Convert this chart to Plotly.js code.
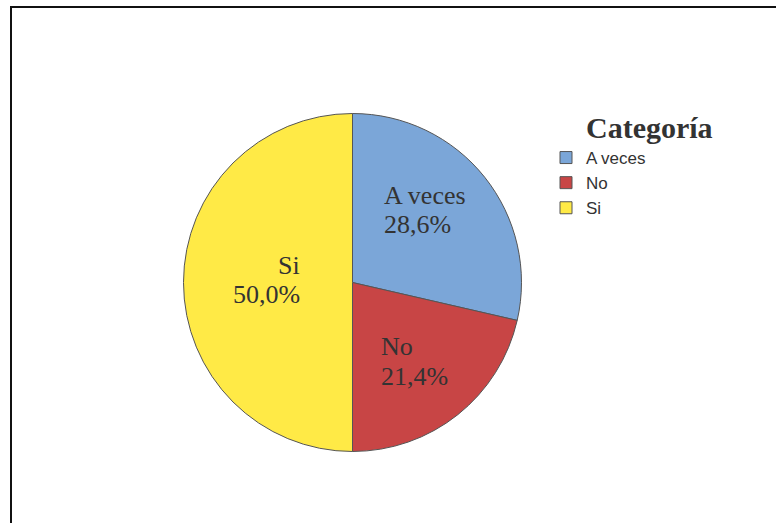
<!DOCTYPE html>
<html>
<head>
<meta charset="utf-8">
<script src="https://cdn.plot.ly/plotly-3.0.1.min.js"></script>
<style>
  html, body { margin: 0; padding: 0; background: #fff; }
  #wrap { position: relative; width: 776px; height: 523px; overflow: hidden; }
  #chart { position: absolute; left: 0; top: 0; width: 776px; height: 523px; }
  #frame { position: absolute; left: 10px; top: 6px; width: 800px; height: 560px;
           border-left: 2px solid #111; border-top: 2px solid #111; pointer-events: none; }
</style>
</head>
<body>
<div id="wrap">
  <div id="chart"></div>
  <div id="frame"></div>
</div>
<script>
// Data
const categories = ["A veces", "No", "Si"];
const percents = [28.6, 21.4, 50.0];
const colors = ["#7BA6D8", "#C84545", "#FFEA46"];
const legendTitle = "Categoría";

function fmt(v) { return v.toFixed(1).replace('.', ',') + '%'; }

const W = 776, H = 523;
function px(x) { return x / W; }
function py(y) { return 1 - y / H; }

const trace = {
  type: 'pie',
  labels: categories,
  values: percents,
  sort: false,
  direction: 'clockwise',
  rotation: 0,
  textinfo: 'none',
  hoverinfo: 'label+percent',
  marker: { colors: colors, line: { color: '#555555', width: 1 } },
  domain: { x: [px(183.5), px(521.5)], y: [py(451.5), py(113.5)] },
  showlegend: true
};

// Label placement (pixel positions for each category's label block)
const labelPos = [
  { x: 383, yName: 195.5, yPct: 225, anchor: 'left' },
  { x: 380, yName: 346, yPct: 376, anchor: 'left' },
  { x: 301, yName: 265.3, yPct: 294.7, anchor: 'right' }
];

const labelFont = { family: 'Liberation Serif, Times New Roman, serif', size: 26, color: '#333333' };
const annotations = [];
categories.forEach((c, i) => {
  const p = labelPos[i];
  annotations.push({ xref: 'paper', yref: 'paper', x: px(p.x), y: py(p.yName), text: c,
    xanchor: p.anchor, yanchor: 'middle', showarrow: false, font: labelFont, borderpad: 0 });
  annotations.push({ xref: 'paper', yref: 'paper', x: px(p.x), y: py(p.yPct), text: fmt(percents[i]),
    xanchor: p.anchor, yanchor: 'middle', showarrow: false, font: labelFont, borderpad: 0 });
});
annotations.push({ xref: 'paper', yref: 'paper', x: px(585), y: py(127), text: '<b>' + legendTitle + '</b>',
  xanchor: 'left', yanchor: 'middle', showarrow: false, borderpad: 0,
  font: { family: 'Liberation Serif, Times New Roman, serif', size: 30, color: '#333333' } });

const layout = {
  width: W, height: H,
  margin: { l: 0, r: 0, t: 0, b: 0 },
  paper_bgcolor: '#ffffff',
  plot_bgcolor: '#ffffff',
  showlegend: true,
  legend: {
    x: px(546), y: py(140), xanchor: 'left', yanchor: 'top',
    traceorder: 'normal',
    font: { family: 'Liberation Sans, Arial, sans-serif', size: 17, color: '#333333' },
    bgcolor: 'rgba(0,0,0,0)'
  },
  annotations: annotations
};

Plotly.newPlot('chart', [trace], layout, { displayModeBar: false, staticPlot: true });
</script>
</body>
</html>
